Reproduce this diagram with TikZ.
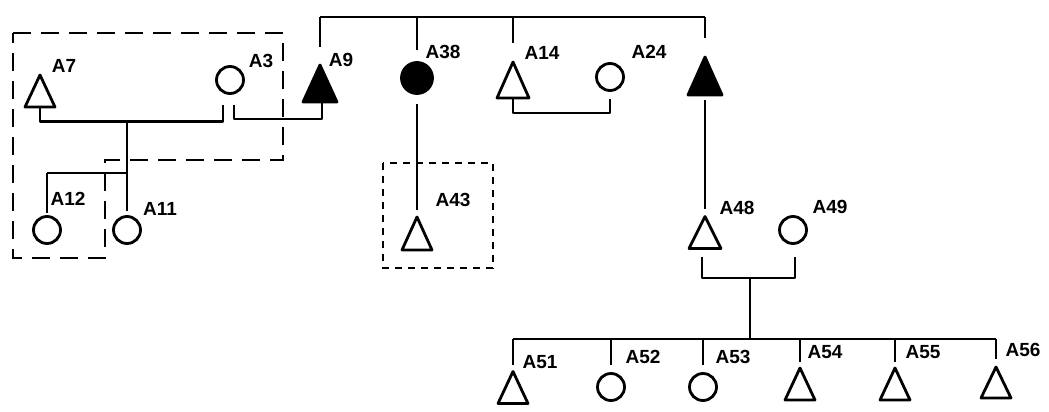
\documentclass[tikz,border=0pt]{standalone}
\usepackage{fontspec}
\setmainfont{Liberation Sans}
\usetikzlibrary{calc}
\tikzset{
  ln/.style={line width=2.8pt, line join=round},
  tbox/.style={inner sep=0pt, outer sep=0pt, minimum width=30pt, minimum height=32pt},
  ftbox/.style={inner sep=0pt, outer sep=0pt, minimum width=34pt, minimum height=37pt},
  circ/.style={circle, draw, line width=2.8pt, minimum size=27pt, inner sep=0pt, outer sep=0pt},
  fcirc/.style={circle, draw, fill=black, line width=2.8pt, minimum size=31pt, inner sep=0pt, outer sep=0pt},
  lab/.style={font=\bfseries\fontsize{19}{19}\selectfont, inner sep=0pt},
  dbig/.style={line width=2.6pt, dash pattern=on 18pt off 10pt},
  dsmall/.style={line width=2.4pt, dash pattern=on 7pt off 6pt},
}
\newcommand\pedtri[2][]{\draw[ln,#1] (#2.south west) -- (#2.north) -- (#2.south east) -- cycle;}
\begin{document}
\begin{tikzpicture}[x=1pt,y=-1pt]
\useasboundingbox[fill=white] (0,0) rectangle (1049,412);
% dashed boxes
\draw[dbig] (13,33) -- (283,33) -- (283,160) -- (105,160) -- (105,258) -- (13,258) -- cycle;
\draw[dsmall] (383,163) rectangle (493,268);
% individuals
\node[tbox] (a7) at (40,91) {};
\node[circ] (a3) at (230,80) {};
\node[circ] (a12) at (47,230) {};
\node[circ] (a11) at (127,230) {};
\node[ftbox] (a9) at (320,83.5) {};
\node[fcirc] (a38) at (417,78) {};
\node[tbox, minimum height=33pt] (a43) at (417,233.5) {};
\node[tbox, minimum width=32pt, minimum height=36pt] (a14) at (513,80) {};
\node[circ] (a24) at (610,77) {};
\node[ftbox, minimum height=38pt] (u) at (705,76) {};
\node[tbox, minimum width=32pt] (a48) at (705,232.5) {};
\node[circ] (a49) at (793,230) {};
\node[tbox] (a51) at (513,387.5) {};
\node[circ] (a52) at (611,387) {};
\node[circ] (a53) at (703,387) {};
\node[tbox] (a54) at (800,384) {};
\node[tbox] (a55) at (895,384) {};
\node[tbox, minimum height=31pt] (a56) at (996,382.5) {};
\pedtri{a7}
\pedtri[fill=black]{a9}
\pedtri{a43}
\pedtri{a14}
\pedtri[fill=black]{u}
\pedtri{a48}
\pedtri{a51}
\pedtri{a54}
\pedtri{a55}
\pedtri{a56}
% labels
\node[lab] (l7) at (64,66) {A7};
\node[lab] (l3) at (261,61) {A3};
\node[lab] (l12) at (68,199) {A12};
\node[lab] (l11) at (160,209) {A11};
\node[lab] (l9) at (341,60) {A9};
\node[lab] (l38) at (443,52) {A38};
\node[lab] (l14) at (542,53) {A14};
\node[lab] (l24) at (649,52) {A24};
\node[lab] (l43) at (453,200) {A43};
\node[lab] (l48) at (737,208) {A48};
\node[lab] (l49) at (830,207) {A49};
\node[lab] (l51) at (540,362) {A51};
\node[lab] (l52) at (643,357) {A52};
\node[lab] (l53) at (733,357) {A53};
\node[lab] (l54) at (825,352) {A54};
\node[lab] (l55) at (923,352) {A55};
\node[lab] (l56) at (1023,350) {A56};
% top sibship
\coordinate (top) at (0,17);
\draw[ln] (a9.north |- top) -- (u.north |- top);
\draw[ln, shorten >=18pt] (a9.north |- top) -- (a9.north);
\draw[ln, shorten >=12pt] (a38.north |- top) -- (a38.north);
\draw[ln, shorten >=19pt] (a14.north |- top) -- (a14.north);
\draw[ln, shorten >=19pt] (u.north |- top) -- (u.north);
% A7 x A3
\coordinate (m1) at (127,122);
\draw[ln] (a7.south) |- ($(a3.south)+(-7,28)$) -- ($(a3.south)+(-7,11)$);
% A3 x A9
\draw[ln] ($(a3.south)+(4,11)$) |- ($(a9.south)+(2,17)$) -- ($(a9.south)+(2,0)$);
% children of A7 x A3
\coordinate (s1) at (127,173);
\draw[ln, shorten >=6pt] (m1) -- (a11.north);
\draw[ln] (a12.north |- s1) -- (s1);
\draw[ln, shorten >=4pt] (a12.north |- s1) -- (a12.north);
% A38 - A43
\draw[ln, shorten <=10pt, shorten >=7pt] (a38.south) -- (a43.north);
% A14 x A24
\draw[ln] (a14.south) -- ++(0,15) -| ($(a24.south)+(0,8)$);
% unlabeled - A48
\draw[ln, shorten <=5pt, shorten >=8pt] (u.south) -- (a48.north);
% A48 x A49
\draw[ln] ($(a48.south)+(-3,8.5)$) |- ($(a49.south)+(2,34.5)$) -- ($(a49.south)+(2,13.5)$);
\coordinate (m3) at (750,278);
\coordinate (s3) at (750,339);
\draw[ln] (m3) -- (s3);
\draw[ln] (a51.north |- s3) -- (a56.north |- s3);
\draw[ln, shorten >=6.5pt] (a51.north |- s3) -- (a51.north);
\draw[ln, shorten >=8.5pt] (a52.north |- s3) -- (a52.north);
\draw[ln, shorten >=8.5pt] (a53.north |- s3) -- (a53.north);
\draw[ln, shorten >=6pt] (a54.north |- s3) -- (a54.north);
\draw[ln, shorten >=6pt] (a55.north |- s3) -- (a55.north);
\draw[ln, shorten >=8.5pt] (a56.north |- s3) -- (a56.north);
\end{tikzpicture}
\end{document}
